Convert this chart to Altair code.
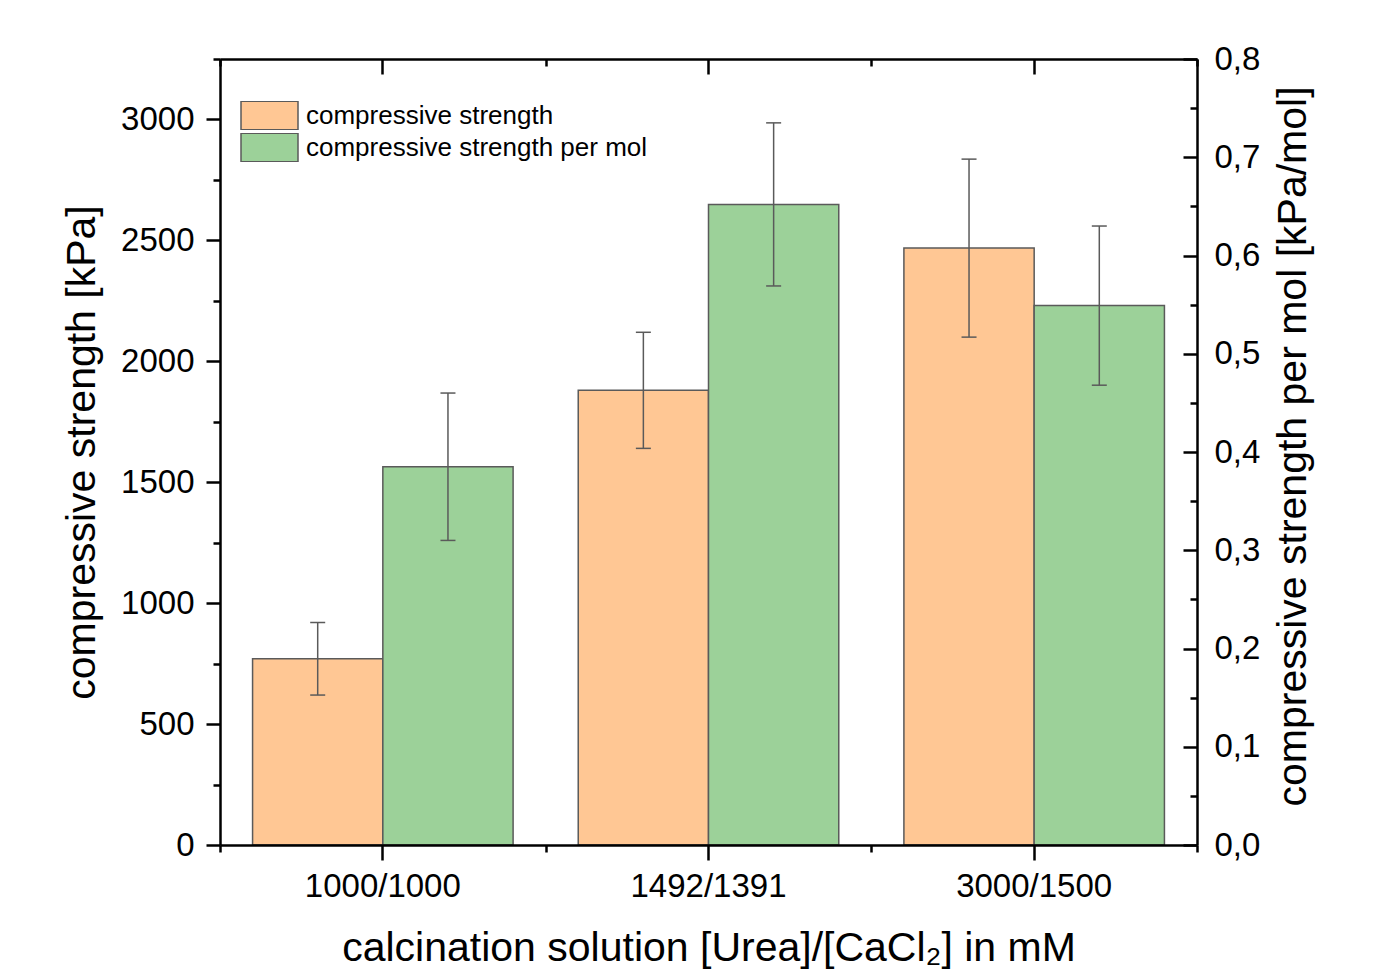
import altair as alt
import pandas as pd

categories = ["1000/1000", "1492/1391", "3000/1500"]
strength = [770, 1880, 2468]
strength_err = [150, 240, 368]
strength_per_mol = [0.385, 0.652, 0.549]
strength_per_mol_err = [0.075, 0.083, 0.081]
series_names = ["compressive strength", "compressive strength per mol"]
colors = ["#FFC794", "#9CD199"]

left_ticks = [0, 500, 1000, 1500, 2000, 2500, 3000]
left_minor = [250, 750, 1250, 1750, 2250, 2750, 3250]
right_ticks = [0.0, 0.1, 0.2, 0.3, 0.4, 0.5, 0.6, 0.7, 0.8]
right_minor = [0.05, 0.15, 0.25, 0.35, 0.45, 0.55, 0.65, 0.75]

FONT = "Liberation Sans"
EDGE = "#5a5a5a"


def frame(vals, errs, name):
    return pd.DataFrame({
        "cat": categories,
        "series": name,
        "value": vals,
        "lo": [v - e for v, e in zip(vals, errs)],
        "hi": [v + e for v, e in zip(vals, errs)],
    })


df_s = frame(strength, strength_err, series_names[0])
df_m = frame(strength_per_mol, strength_per_mol_err, series_names[1])

ys = alt.Scale(domain=[0, 3250], nice=False, zero=True)
ym = alt.Scale(domain=[0, 0.8], nice=False, zero=True)


def X(axis):
    return alt.X("cat:N", sort=categories,
                 scale=alt.Scale(paddingInner=0, paddingOuter=0), axis=axis)


XO = alt.XOffset("series:N",
                 scale=alt.Scale(domain=series_names, paddingInner=0, paddingOuter=0.25))

COLOR = alt.Color(
    "series:N",
    scale=alt.Scale(domain=series_names, range=colors),
    legend=alt.Legend(
        title=None, orient="none", legendX=20, legendY=42,
        symbolType="M-1,-0.5H1V0.5H-1Z", symbolSize=3249,
        symbolStrokeColor=EDGE, symbolStrokeWidth=1.5, symbolOpacity=1,
        labelFontSize=26, labelFont=FONT, labelColor="black", labelLimit=0,
        labelOffset=7, rowPadding=3, padding=0, clipHeight=29,
    ),
)

tick_common = dict(tickColor="black", tickWidth=2.5, zindex=1, grid=False)

ax_bottom = alt.Axis(
    orient="bottom", title="calcination solution [Urea]/[CaCl₂] in mM",
    labelAngle=0, tickSize=15, labelPadding=10, labelFontSize=33,
    titleFontSize=41, titlePadding=25, titleFontWeight="normal",
    domain=True, domainColor="black", domainWidth=2.5, **tick_common)
ax_bottom_minor = alt.Axis(
    orient="bottom", title=None, labels=False, domain=False, tickBand="extent",
    tickSize=7, **tick_common)
ax_top = alt.Axis(
    orient="top", title=None, labels=False, domain=False, offset=-15,
    tickSize=15, **tick_common)
ax_top_minor = alt.Axis(
    orient="top", title=None, labels=False, domain=False, tickBand="extent",
    offset=-7, tickSize=7, **tick_common)
ax_top_line = alt.Axis(
    orient="top", title=None, labels=False, ticks=False, tickSize=0,
    domain=True, domainColor="black", domainWidth=2.5, grid=False, zindex=1)

ax_left = alt.Axis(
    orient="left", title="compressive strength [kPa]", values=left_ticks,
    format="d",
    tickSize=14, labelPadding=12, labelFontSize=33, titleFontSize=41,
    titlePadding=17, titleFontWeight="normal",
    domain=True, domainColor="black", domainWidth=2.5, **tick_common)
ax_left_minor = alt.Axis(
    orient="left", title=None, values=left_minor, labels=False, domain=False,
    tickSize=7, **tick_common)

ax_right = alt.Axis(
    orient="right", title="compressive strength per mol [kPa/mol]",
    values=right_ticks, ticks=False, tickSize=0, labelPadding=17,
    labelFontSize=33, labelExpr="replace(format(datum.value, '.1f'), '.', ',')",
    titleFontSize=41, titlePadding=14, titleAngle=270, titleBaseline="top",
    titleY=387,
    titleFontWeight="normal", domain=True, domainColor="black", domainWidth=2.5,
    grid=False, zindex=1)
ax_right_major = alt.Axis(
    orient="right", title=None, values=right_ticks, labels=False, domain=False,
    offset=-14, tickSize=14, **tick_common)
ax_right_minor = alt.Axis(
    orient="right", title=None, values=right_minor, labels=False, domain=False,
    offset=-7, tickSize=7, **tick_common)

bars_s = alt.Chart(df_s).mark_bar(stroke=EDGE, strokeWidth=1.5, opacity=1).encode(
    x=X(ax_bottom), xOffset=XO,
    y=alt.Y("value:Q", scale=ys, axis=ax_left), color=COLOR)
rule_s = alt.Chart(df_s).mark_rule(color=EDGE, strokeWidth=1.5).encode(
    x=X(ax_bottom_minor), xOffset=XO,
    y=alt.Y("lo:Q", scale=ys, axis=ax_left_minor), y2="hi:Q")
caps_s = alt.Chart(df_s).transform_fold(["lo", "hi"], as_=["end", "endval"]).mark_tick(
    color=EDGE, size=15, thickness=1.5, opacity=1).encode(
    x=X(ax_top), xOffset=XO,
    y=alt.Y("endval:Q", scale=ys, axis=None))

bars_m = alt.Chart(df_m).mark_bar(stroke=EDGE, strokeWidth=1.5, opacity=1).encode(
    x=X(ax_top_minor), xOffset=XO,
    y=alt.Y("value:Q", scale=ym, axis=ax_right), color=COLOR)
rule_m = alt.Chart(df_m).mark_rule(color=EDGE, strokeWidth=1.5).encode(
    x=X(ax_top_line), xOffset=XO,
    y=alt.Y("lo:Q", scale=ym, axis=ax_right_major), y2="hi:Q")
caps_m = alt.Chart(df_m).transform_fold(["lo", "hi"], as_=["end", "endval"]).mark_tick(
    color=EDGE, size=15, thickness=1.5, opacity=1).encode(
    x=X(None), xOffset=XO,
    y=alt.Y("endval:Q", scale=ym, axis=ax_right_minor))

chart = alt.layer(bars_s, rule_s, caps_s, bars_m, rule_m, caps_m).resolve_scale(
    y="independent"
).resolve_axis(
    x="independent", y="independent"
).properties(
    width=977, height=786,
    autosize=alt.AutoSizeParams(type="none"),
    padding={"left": 212, "top": 51, "right": 171, "bottom": 128},
).configure_view(
    stroke=None
).configure_axis(
    labelFont=FONT, titleFont=FONT, labelColor="black", titleColor="black"
).configure(
    font=FONT
)

chart.save("out.html", embed_options={"renderer": "svg", "actions": False})
